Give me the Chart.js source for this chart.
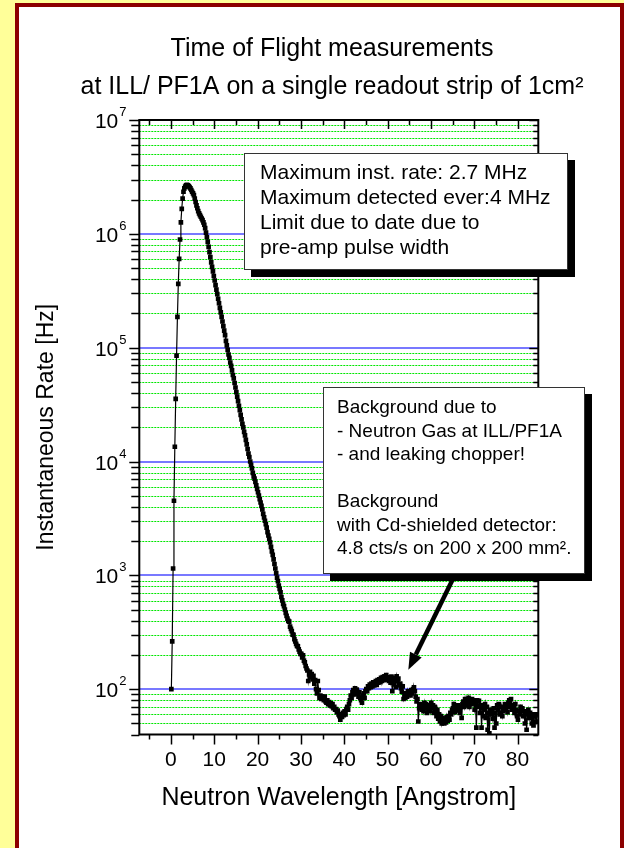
<!DOCTYPE html>
<html><head><meta charset="utf-8">
<script src="https://cdn.jsdelivr.net/npm/chart.js@4/dist/chart.umd.min.js"></script>
<style>
html,body{margin:0;padding:0;width:624px;height:848px;overflow:hidden;background:#FFFF99;}
#frame{position:absolute;left:15px;top:3px;width:601px;height:900px;border:4px solid #8B0000;background:#fff;}
#c{position:absolute;left:0;top:0}
</style></head><body>
<div id="frame"></div>
<canvas id="c" width="624" height="848"></canvas>
<script>
// ---- data ----
const wavelength = [
0.1,0.3,0.5,0.7,0.9,1.1,1.3,1.5,1.7,1.9,
2.1,2.3,2.5,2.7,2.9,3.1,3.3,3.5,3.7,3.9,
4.1,4.3,4.5,4.7,4.9,5.1,5.3,5.5,5.7,5.9,
6.1,6.3,6.5,6.7,6.9,7.1,7.3,7.5,7.7,7.9,
8.1,8.3,8.5,8.7,8.9,9.1,9.3,9.5,9.7,9.9,
10.1,10.3,10.5,10.7,10.9,11.1,11.3,11.5,11.7,11.9,
12.1,12.3,12.5,12.7,12.9,13.1,13.3,13.5,13.7,13.9,
14.1,14.3,14.5,14.7,14.9,15.1,15.3,15.5,15.7,15.9,
16.1,16.3,16.5,16.7,16.9,17.1,17.3,17.5,17.7,17.9,
18.1,18.3,18.5,18.7,18.9,19.1,19.3,19.5,19.7,19.9,
20.1,20.3,20.5,20.7,20.9,21.1,21.3,21.5,21.7,21.9,
22.1,22.3,22.5,22.7,22.9,23.1,23.3,23.5,23.7,23.9,
24.1,24.3,24.5,24.7,24.9,25.1,25.3,25.5,25.7,25.9,
26.1,26.3,26.5,26.7,26.9,27.1,27.3,27.5,27.7,27.9,
28.1,28.3,28.5,28.7,28.9,29.1,29.3,29.5,29.7,29.9,
30.1,30.3,30.5,30.7,30.9,31.1,31.3,31.5,31.7,31.9,
32.1,32.3,32.5,32.7,32.9,33.1,33.3,33.5,33.7,33.9,
34.1,34.3,34.5,34.7,34.9,35.1,35.3,35.5,35.7,35.9,
36.1,36.3,36.5,36.7,36.9,37.1,37.3,37.5,37.7,37.9,
38.1,38.3,38.5,38.7,38.9,39.1,39.3,39.5,39.7,39.9,
40.1,40.3,40.5,40.7,40.9,41.1,41.3,41.5,41.7,41.9,
42.1,42.3,42.5,42.7,42.9,43.1,43.3,43.5,43.7,43.9,
44.1,44.3,44.5,44.7,44.9,45.1,45.3,45.5,45.7,45.9,
46.1,46.3,46.5,46.7,46.9,47.1,47.3,47.5,47.7,47.9,
48.1,48.3,48.5,48.7,48.9,49.1,49.3,49.5,49.7,49.9,
50.1,50.3,50.5,50.7,50.9,51.1,51.3,51.5,51.7,51.9,
52.1,52.3,52.5,52.7,52.9,53.1,53.3,53.5,53.7,53.9,
54.1,54.3,54.5,54.7,54.9,55.1,55.3,55.5,55.7,55.9,
56.1,56.3,56.5,56.7,56.9,57.1,57.3,57.5,57.7,57.9,
58.1,58.3,58.5,58.7,58.9,59.1,59.3,59.5,59.7,59.9,
60.1,60.3,60.5,60.7,60.9,61.1,61.3,61.5,61.7,61.9,
62.1,62.3,62.5,62.7,62.9,63.1,63.3,63.5,63.7,63.9,
64.1,64.3,64.5,64.7,64.9,65.1,65.3,65.5,65.7,65.9,
66.1,66.3,66.5,66.7,66.9,67.1,67.3,67.5,67.7,67.9,
68.1,68.3,68.5,68.7,68.9,69.1,69.3,69.5,69.7,69.9,
70.1,70.3,70.5,70.7,70.9,71.1,71.3,71.5,71.7,71.9,
72.1,72.3,72.5,72.7,72.9,73.1,73.3,73.5,73.7,73.9,
74.1,74.3,74.5,74.7,74.9,75.1,75.3,75.5,75.7,75.9,
76.1,76.3,76.5,76.7,76.9,77.1,77.3,77.5,77.7,77.9,
78.1,78.3,78.5,78.7,78.9,79.1,79.3,79.5,79.7,79.9,
80.1,80.3,80.5,80.7,80.9,81.1,81.3,81.5,81.7,81.9,
82.1,82.3,82.5,82.7,82.9,83.1,83.3,83.5,83.7,83.9,
84.1,84.3,84.5
];
const rateHz = [
100,263,1148,4519,13490,35481,85114,186209,363078,602560,
891251,1258925,1659587,2041738,2344229,2511886,2600160,2660725,2691535,2660725,
2630268,2570396,2511886,2426610,2344229,2264644,2187762,2041738,1905461,1778279,
1678804,1584893,1513561,1462177,1412538,1364583,1318257,1258925,1202264,1122018,
1023293,933254,851138,767361,691831,623735,562341,512861,467735,426580,
389045,354813,323594,295121,269153,245471,223872,204174,186209,169824,
154882,141254,128825,114815,104713,95499,87096,81283,74131,69183,
63096,57544,53703,48978,44668,40738,37154,33884,30903,28184,
25704,23442,21380,19953,18197,16982,15488,14125,12882,11749,
10965,10000,9333,8710,7943,7413,7079,6607,6166,5754,
5370,5012,4677,4365,4074,3802,3467,3236,3020,2818,
2630,2399,2239,2089,1950,1778,1622,1514,1380,1259,
1148,1047,955,891,813,759,708,646,603,562,
537,501,468,440,417,398,392,355,339,324,
302,300,275,263,250,240,238,224,214,204,
204,190,198,178,172,160,152,146,118,135,
142,128,136,122,131,112,120,100,92,118,
98,84,88,82,86,84,80,86,78,76,
80,74,77,72,75,71,74,68,70,66,
67,63,65,60,58,54,60,57,62,59,
64,60,67,70,66,74,80,88,84,94,
98,90,102,95,99,92,86,94,84,80,
76,88,92,84,96,100,96,106,102,110,
104,112,106,115,108,112,118,109,120,114,
122,116,126,118,128,120,130,124,133,121,
127,118,125,114,129,96,120,110,126,104,
130,118,124,108,112,102,95,106,82,88,
84,92,86,96,90,94,88,98,92,100,
104,96,86,78,82,52,68,74,70,66,
72,64,76,68,74,62,70,66,72,64,
76,68,72,62,70,64,58,66,55,60,
52,58,50,56,51,50,55,51,57,53,
58,54,62,60,66,68,74,63,70,72,
65,72,68,62,70,56,74,78,70,82,
72,80,76,84,70,78,74,82,77,80,
66,74,46,80,70,79,62,72,46,68,
58,66,74,56,70,44,62,41,66,60,
63,55,68,46,62,50,72,66,74,60,
62,70,58,64,68,74,66,71,63,76,
80,70,82,66,72,69,62,74,66,58,
54,64,60,70,66,68,58,64,50,62,
44,60,66,56,62,56,50,60,48,58,
58,52,60
];
const xTickValues = [-5,0,5,10,15,20,25,30,35,40,45,50,55,60,65,70,75,80];
const xTickLabels = [0,10,20,30,40,50,60,70,80];
const yDecades = [10,100,1000,10000,100000,1000000];
const ySignificands = [1,2,3,4,5,6,7,8,9];
const titleLines = ['Time of Flight measurements','at ILL/ PF1A on a single readout strip of 1cm\u00B2'];
const xTitle = 'Neutron Wavelength [Angstrom]';
const yTitle = 'Instantaneous Rate [Hz]';
const note1 = ['Maximum inst. rate: 2.7 MHz','Maximum detected ever:4 MHz','Limit due to date due to','pre-amp pulse width'];
const note2 = ['Background due to','- Neutron Gas at ILL/PF1A','- and leaking chopper!','','Background','with Cd-shielded detector:','4.8 cts/s on 200 x 200 mm\u00B2.'];
// annotation anchors in data units
const note1Box = {x0:16.9, x1:91.5, y0:5.18e6, y1:4.94e5};
const note2Box = {x0:35.1, x1:95.4, y0:45600, y1:1054};
const arrowFrom = {x:65.2, y:946};
const arrowTo = {x:54.8, y:148};

const FONT = "'Liberation Sans', Arial, Helvetica, sans-serif";
const Y_MIN = 40, Y_MAX = 1e7, X_MIN = -7.3, X_MAX = 84.8;

const deco = {
  id:'deco',
  beforeDatasetsDraw(chart){
    const {ctx, chartArea:a, scales:{y}} = chart;
    ctx.save();
    ctx.lineWidth = 1;
    ctx.strokeStyle = '#00e600';
    ctx.setLineDash([2,1]);
    y.ticks.forEach(t=>{
      if (t.major) return;
      const py = Math.round(y.getPixelForValue(t.value)) + 0.5;
      if (py < a.top + 2 || py > a.bottom - 2) return;
      ctx.beginPath(); ctx.moveTo(a.left, py); ctx.lineTo(a.right, py); ctx.stroke();
    });
    ctx.setLineDash([]);
    ctx.strokeStyle = '#7878ff';
    ctx.lineWidth = 2;
    y.ticks.forEach(t=>{
      if (!t.major) return;
      const py = Math.round(y.getPixelForValue(t.value));
      if (py < a.top + 2 || py > a.bottom - 2) return;
      ctx.beginPath(); ctx.moveTo(a.left, py); ctx.lineTo(a.right, py); ctx.stroke();
    });
    ctx.restore();
  },
  afterDatasetsDraw(chart){
    const {ctx, chartArea:a, scales:{x, y}} = chart;
    ctx.save();
    ctx.strokeStyle = '#000';
    ctx.lineWidth = 1.5;
    x.ticks.forEach(t=>{
      const px = Math.round(x.getPixelForValue(t.value)) + 0.5;
      const maj = t.value % 10 === 0;
      ctx.beginPath();
      ctx.moveTo(px, a.bottom); ctx.lineTo(px, a.bottom + (maj ? 10 : 5));
      ctx.moveTo(px, a.top); ctx.lineTo(px, a.top + (maj ? 9 : 5));
      ctx.stroke();
    });
    y.ticks.forEach(t=>{
      const py = Math.round(y.getPixelForValue(t.value)) + 0.5;
      if (py < a.top - 1 || py > a.bottom + 1) return;
      const maj = t.major;
      ctx.beginPath();
      ctx.moveTo(a.left, py); ctx.lineTo(a.left - (maj ? 10 : 8), py);
      ctx.moveTo(a.right, py); ctx.lineTo(a.right - (maj ? 9 : 5), py);
      ctx.stroke();
    });
    ctx.lineWidth = 2;
    ctx.strokeRect(a.left, a.top, a.right - a.left, a.bottom - a.top);
    // y tick labels 10^n
    ctx.fillStyle = '#000';
    ctx.textBaseline = 'alphabetic';
    y.ticks.forEach(t=>{
      if (!t.major) return;
      const e = Math.round(Math.log10(t.value));
      const py = y.getPixelForValue(t.value);
      ctx.font = '21px ' + FONT;
      ctx.textAlign = 'right';
      ctx.fillText('10', a.left - 21, py + 8);
      ctx.font = '13px ' + FONT;
      ctx.textAlign = 'left';
      ctx.fillText(String(e), a.left - 20, py - 4);
    });
    const box = (b, lines, fs, first, step, pad) => {
      const l = Math.round(x.getPixelForValue(b.x0)), r = Math.round(x.getPixelForValue(b.x1));
      const tp = Math.round(y.getPixelForValue(b.y0)), bt = Math.round(y.getPixelForValue(b.y1));
      ctx.fillStyle = '#000';
      ctx.fillRect(l + 7, tp + 7, r - l + 1, bt - tp + 1);
      ctx.fillStyle = '#fff';
      ctx.fillRect(l, tp, r - l, bt - tp);
      ctx.lineWidth = 1;
      ctx.strokeStyle = '#333';
      ctx.strokeRect(l + 0.5, tp + 0.5, r - l, bt - tp);
      ctx.fillStyle = '#000';
      ctx.font = fs + 'px ' + FONT;
      ctx.textAlign = 'left';
      ctx.textBaseline = 'middle';
      lines.forEach((s, i) => ctx.fillText(s, l + pad, tp + first + i * step));
    };
    box(note1Box, note1, 21, 20, 25, 16);
    box(note2Box, note2, 19, 21, 23.5, 14);
    const x1 = x.getPixelForValue(arrowFrom.x), y1 = y.getPixelForValue(arrowFrom.y);
    const x2 = x.getPixelForValue(arrowTo.x), y2 = y.getPixelForValue(arrowTo.y);
    const ang = Math.atan2(y2 - y1, x2 - x1);
    const hl = 17, hw = 6.5;
    const bx = x2 - hl * Math.cos(ang), by = y2 - hl * Math.sin(ang);
    ctx.strokeStyle = '#000';
    ctx.lineWidth = 4.5;
    ctx.beginPath(); ctx.moveTo(x1, y1); ctx.lineTo(bx, by); ctx.stroke();
    ctx.fillStyle = '#000';
    ctx.beginPath();
    ctx.moveTo(x2, y2);
    ctx.lineTo(bx + hw * Math.sin(ang), by - hw * Math.cos(ang));
    ctx.lineTo(bx - hw * Math.sin(ang), by + hw * Math.cos(ang));
    ctx.closePath(); ctx.fill();
    ctx.restore();
  }
};

new Chart(document.getElementById('c'), {
  type: 'scatter',
  data: {
    datasets: [{
      data: wavelength.map((w, i) => ({x: w, y: rateHz[i]})),
      showLine: true,
      borderColor: '#000',
      borderWidth: 1.2,
      pointStyle: 'rect',
      pointRadius: 3.3,
      pointBackgroundColor: '#000',
      pointBorderColor: '#000',
      pointBorderWidth: 0
    }]
  },
  options: {
    responsive: false,
    animation: false,
    devicePixelRatio: 1,
    layout: {padding: {left: 40, right: 0, top: 0, bottom: 0}},
    plugins: {
      legend: {display: false},
      tooltip: {enabled: false},
      title: {
        display: true,
        text: titleLines,
        color: '#000',
        font: {family: FONT, size: 25, weight: 'normal', lineHeight: 1.52},
        padding: {top: 30, bottom: 14}
      }
    },
    scales: {
      x: {
        type: 'linear', min: X_MIN, max: X_MAX,
        grid: {display: false, drawTicks: false},
        border: {display: false},
        afterBuildTicks: s => { s.ticks = xTickValues.map(v => ({value: v})); },
        ticks: {
          color: '#000', font: {family: FONT, size: 21}, padding: 13, maxRotation: 0, autoSkip: false,
          callback: v => xTickLabels.includes(v) ? String(v) : ''
        },
        title: {display: true, text: xTitle, color: '#000', font: {family: FONT, size: 25}, padding: {top: 0, bottom: 35}},
        afterFit: s => { s.height = 113.5; }
      },
      y: {
        type: 'logarithmic', min: Y_MIN, max: Y_MAX,
        grid: {display: false, drawTicks: false},
        border: {display: false},
        afterBuildTicks: s => {
          const t = [];
          yDecades.forEach(d => ySignificands.forEach(m => { const v = m * d; if (v >= Y_MIN && v <= Y_MAX) t.push({value: v, major: m === 1}); }));
          t.push({value: Y_MAX, major: true});
          s.ticks = t;
        },
        ticks: {display: false},
        title: {display: true, text: yTitle, color: '#000', font: {family: FONT, size: 23}, padding: {top: -7, bottom: 0}},
        afterFit: s => { s.width = 99.3; }
      },
      y2: {
        type: 'linear', position: 'right', display: true,
        grid: {display: false, drawTicks: false},
        border: {display: false},
        ticks: {display: false},
        afterFit: s => { s.width = 85.7; }
      }
    }
  },
  plugins: [deco]
});
</script>
</body></html>
